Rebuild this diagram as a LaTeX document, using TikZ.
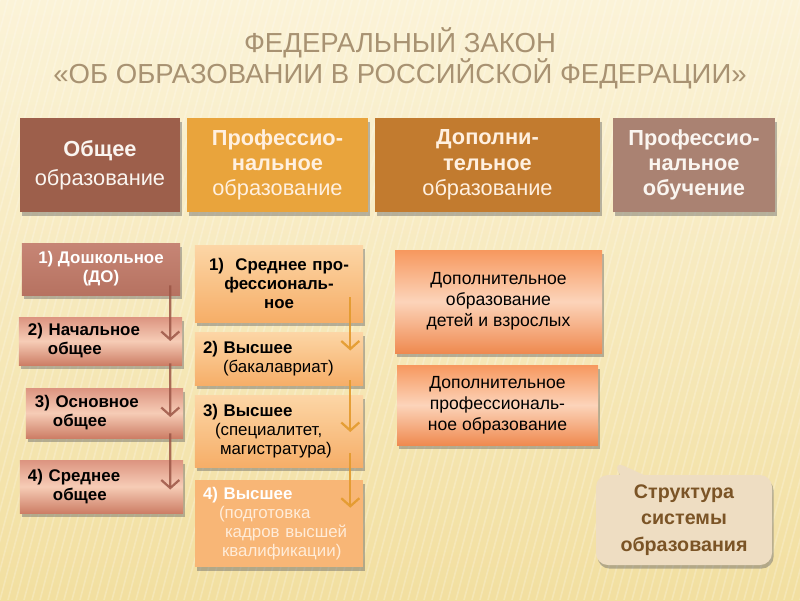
\documentclass[tikz,border=0pt]{standalone}
\usepackage{fontspec}
\setmainfont{Liberation Sans}
\definecolor{bgtop}{HTML}{FBF3D8}
\definecolor{bgbottom}{HTML}{F2DFA0}
\definecolor{titlecol}{HTML}{A89272}
\definecolor{hgen}{HTML}{9D5F4B}
\definecolor{hprof}{HTML}{E9A43C}
\definecolor{hadd}{HTML}{C27B2F}
\definecolor{htrain}{HTML}{AA8272}
\definecolor{stgtop}{HTML}{DC9480}
\definecolor{stgmid}{HTML}{F6CCB6}
\definecolor{stgbot}{HTML}{CD7E66}
\definecolor{stgfirst}{HTML}{C07866}
\definecolor{protop}{HTML}{FCD6A6}
\definecolor{probot}{HTML}{F6AE68}
\definecolor{prolast}{HTML}{F8B676}
\definecolor{addtop}{HTML}{F7985E}
\definecolor{addmid}{HTML}{FCD4BA}
\definecolor{addbot}{HTML}{EF8A50}
\definecolor{arrbrown}{HTML}{9C5646}
\definecolor{arrgold}{HTML}{E39A2C}
\definecolor{callfill}{HTML}{EEDDC2}
\definecolor{calltxt}{HTML}{7B5426}
\usepackage{tikz}
\usetikzlibrary{shadows,shadings,calc,arrows.meta,shapes.callouts}

\tikzset{
  boxshadow/.style={drop shadow={shadow xshift=0.4mm,shadow yshift=-0.9mm,opacity=0.45,fill=black!60}},
  headbox/.style={boxshadow,minimum height=23.5mm,align=center,inner sep=1mm,
    font=\fontsize{15.5}{18}\selectfont},
  genbox/.style={boxshadow,top color=stgtop,bottom color=stgbot,middle color=stgmid,
    align=left,font=\fontsize{12}{13.5}\selectfont\bfseries},
  profbox/.style={boxshadow,top color=protop,bottom color=probot,
    align=left,inner xsep=2mm,text width=38mm,font=\fontsize{12}{13.5}\selectfont},
  addbox/.style={boxshadow,top color=addtop,bottom color=addbot,middle color=addmid,
    align=center,font=\fontsize{12.5}{15}\selectfont},
  genarrow/.style={draw=arrbrown,opacity=0.85,line width=1.5pt,
    -{Straight Barb[length=2mm,width=4.5mm,line width=1.6pt]}},
  profarrow/.style={draw=arrgold,opacity=0.9,line width=1.5pt,
    -{Straight Barb[length=2mm,width=4.5mm,line width=1.6pt]}}
}

\begin{document}
\begin{tikzpicture}[x=0.25mm,y=-0.25mm]
        % Background
        \useasboundingbox (0,0) rectangle (800,600);
        \shade[top color=bgtop,bottom color=bgbottom] (0,0) rectangle (800,600);
        \foreach \i in {-200,-192,...,800}
            \draw[white,opacity=0.22,line width=0.4mm] (\i,600) -- (\i+160,0);

        % Title
        \node[text=titlecol,align=center,font=\fontsize{19.6}{22}\selectfont] (title) at (400,58)
            {ФЕДЕРАЛЬНЫЙ ЗАКОН\\«ОБ ОБРАЗОВАНИИ В РОССИЙСКОЙ ФЕДЕРАЦИИ»};

        % Headers
        \node[headbox,fill=hgen,text=white!92!brown,minimum width=40mm] (general) at (100,165)
            {\textbf{Общее}\\[1mm]образование};
        \node[headbox,fill=hprof,text=white!88!orange,minimum width=45.25mm] (prof) at (277.5,165)
            {\textbf{Профессио-}\\\textbf{нальное}\\образование};
        \node[headbox,fill=hadd,text=white!88!orange,minimum width=56.25mm] (extra) at (487.5,165)
            {\textbf{Дополни-}\\\textbf{тельное}\\образование};
        \node[headbox,fill=htrain,text=white!92!brown,minimum width=40.5mm] (training) at (694,165)
            {\textbf{Профессио-}\\\textbf{нальное}\\\textbf{обучение}};

        % General education levels
        \node[boxshadow,top color=stgfirst!90!white,bottom color=stgfirst!95!black,text=white,
            align=center,minimum width=39.5mm,minimum height=13mm,
            font=\fontsize{12}{13.5}\selectfont\bfseries] (preschool) at (101,269)
            {1) Дошкольное\\(ДО)};
        \node[genbox,inner xsep=2.25mm,text width=36.25mm,minimum height=12mm] (primary) at (100.5,341)
            {2) Начальное\\\hspace*{5mm}общее};
        \node[genbox,inner xsep=2.25mm,text width=34.75mm,minimum height=12.5mm] (basic) at (104.5,413)
            {3) Основное\\\hspace*{4.5mm}общее};
        \node[genbox,inner xsep=2mm,text width=36.75mm,minimum height=13.25mm] (secondary) at (101.5,486.5)
            {4) Среднее\\\hspace*{6.25mm}общее};

        % Professional education levels
        \node[profbox,align=center,minimum height=19.25mm] (vocational) at (279,283.5)
            {\bfseries 1)~~Среднее про-\\фессиональ-\\ное};
        \node[profbox,minimum height=13.25mm] (bachelor) at (279,358.5)
            {\textbf{2) Высшее}\\\hspace*{5mm}(бакалавриат)};
        \node[profbox,minimum height=18mm] (master) at (279,431)
            {\textbf{3) Высшее}\\\hspace*{3mm}(специалитет,\\\hspace*{4.25mm}магистратура)};
        \node[boxshadow,fill=prolast,text=white!85!orange,align=left,inner xsep=2mm,text width=38mm,
            minimum height=21.75mm,font=\fontsize{12}{13.5}\selectfont] (doctoral) at (279,523.5)
            {\textcolor{white}{\textbf{4) Высшее}}\\\hspace*{4mm}(подготовка\\\hspace*{5.5mm}кадров высшей\\\hspace*{4.75mm}квалификации)};

        % Additional education
        \node[addbox,minimum width=51.75mm,minimum height=25.75mm] (children) at (498.5,301.5)
            {Дополнительное\\образование\\детей и взрослых};
        \node[addbox,minimum width=50.25mm,minimum height=20mm] (retraining) at (497.5,405)
            {Дополнительное\\профессиональ-\\ное образование};

        % Arrows
        \draw[genarrow] ($(preschool.south east)+(-10,-10)$) -- ($(primary.east)+(-12,0)$);
        \draw[genarrow] ($(primary.south east)+(-12,-2)$) -- ($(basic.east)+(-13,4)$);
        \draw[genarrow] ($(basic.south east)+(-13,-5)$) -- ($(secondary.east)+(-13,3)$);
        \draw[profarrow] ($(vocational.south east)+(-13,-25)$) -- ($(bachelor.east)+(-13,-8)$);
        \draw[profarrow] ($(bachelor.south east)+(-13,-5)$) -- ($(master.east)+(-13,1)$);
        \draw[profarrow] ($(master.south east)+(-13,-14)$) -- ($(doctoral.north east)+(-13,28)$);

        % Callout
        \node[rectangle callout,callout absolute pointer={(613,461)},callout pointer width=6mm,
            fill=callfill,rounded corners=3mm,minimum width=44mm,minimum height=22.5mm,
            text=calltxt,align=center,font=\fontsize{14}{19}\selectfont\bfseries,boxshadow] (structure) at (684,520)
            {Структура\\системы\\образования};
\end{tikzpicture}
\end{document}
